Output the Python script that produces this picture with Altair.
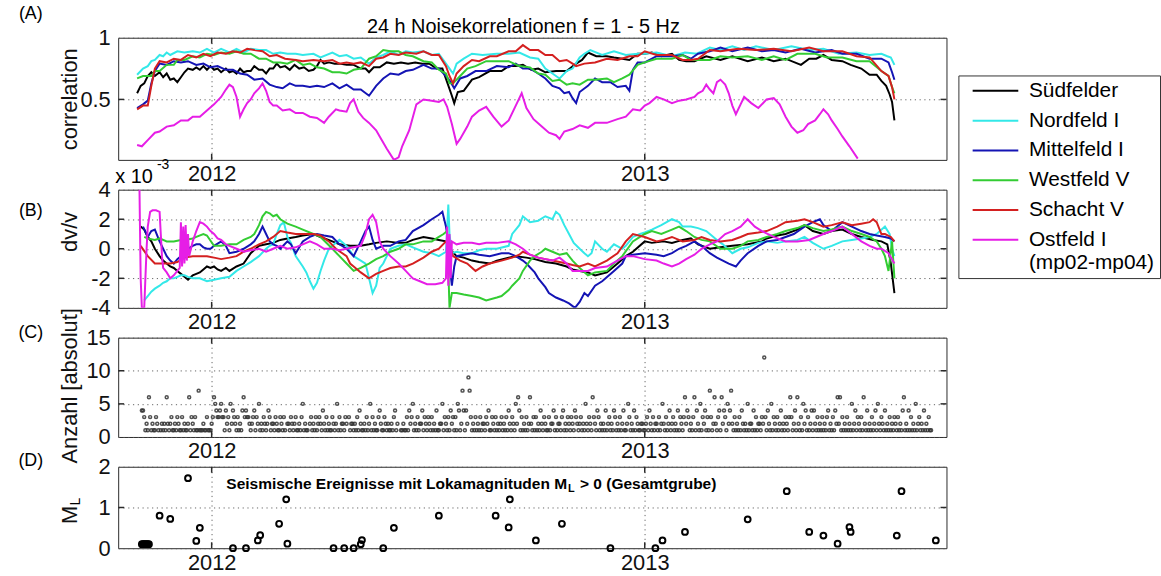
import datetime as dt

import altair as alt
import pandas as pd

FONT = "Liberation Sans"
FRAME = "#2b2b2b"

BASE = dt.date(2012, 1, 1)

SERIES = ["Südfelder", "Nordfeld I", "Mittelfeld I", "Westfeld V", "Schacht V", "Ostfeld I"]
COLORS = ["#000000", "#33e8e8", "#1414b4", "#33cc33", "#d42020", "#e61ee6"]

# ---------------- (A) 24 h noise correlation, (day since 2012-01-01, value)
SUED_A = [(-63,0.55),(-60,0.61),(-57,0.63),(-54,0.69),(-51,0.72),(-48,0.69),(-44,0.72),(-41,0.68),(-38,0.71),(-35,0.66),(-32,0.67),(-29,0.64),(-26,0.68),(-23,0.72),(-20,0.75),(-16,0.74),(-13,0.76),(-10,0.74),(-7,0.77),(-4,0.74),(-1,0.77),(2,0.74),(5,0.75),(8,0.72),(12,0.75),(15,0.72),(18,0.73),(21,0.71),(24,0.75),(27,0.72),(30,0.73),(33,0.73),(36,0.77),(40,0.74),(43,0.74),(46,0.71),(49,0.75),(52,0.75),(55,0.79),(58,0.76),(62,0.77),(66,0.74),(70,0.78),(74,0.75),(78,0.76),(82,0.73),(86,0.74),(89,0.77),(92,0.82),(95,0.79),(99,0.80),(104,0.79),(108,0.79),(114,0.78),(120,0.78),(126,0.75),(130,0.75),(133,0.72),(137,0.76),(142,0.76),(148,0.80),(154,0.79),(160,0.80),(166,0.79),(172,0.80),(178,0.79),(184,0.79),(190,0.75),(195,0.75),(199,0.64),(203,0.53),(205,0.47),(208,0.56),(213,0.57),(220,0.66),(226,0.68),(235,0.73),(245,0.73),(251,0.77),(257,0.77),(263,0.78),(270,0.74),(276,0.75),(282,0.72),(291,0.73),(300,0.73),(308,0.79),(313,0.82),(318,0.88),(325,0.85),(334,0.85),(340,0.84),(347,0.83),(353,0.82),(360,0.87),(366,0.87),(372,0.88),(380,0.85),(389,0.87),(395,0.82),(401,0.81),(408,0.81),(418,0.85),(430,0.82),(440,0.85),(453,0.81),(465,0.84),(475,0.81),(485,0.83),(498,0.78),(505,0.83),(511,0.83),(517,0.86),(524,0.82),(533,0.81),(540,0.78),(549,0.75),(556,0.70),(562,0.70),(566,0.65),(570,0.61),(573,0.54),(575,0.48),(577,0.33)]
NORD_A = [(-63,0.70),(-58,0.75),(-54,0.77),(-51,0.81),(-48,0.82),(-44,0.86),(-41,0.85),(-38,0.88),(-35,0.86),(-29,0.89),(-23,0.88),(-16,0.89),(-10,0.88),(-4,0.91),(2,0.88),(8,0.91),(15,0.88),(21,0.91),(27,0.88),(33,0.91),(40,0.90),(46,0.90),(52,0.87),(58,0.88),(64,0.87),(71,0.87),(77,0.86),(86,0.87),(92,0.84),(102,0.88),(108,0.85),(114,0.86),(120,0.83),(126,0.84),(133,0.79),(139,0.84),(145,0.86),(151,0.89),(158,0.86),(164,0.89),(170,0.88),(179,0.89),(186,0.86),(192,0.87),(198,0.79),(201,0.75),(204,0.71),(207,0.79),(213,0.83),(220,0.87),(229,0.86),(241,0.87),(251,0.87),(260,0.88),(269,0.84),(276,0.83),(282,0.75),(288,0.71),(294,0.67),(300,0.73),(305,0.75),(311,0.84),(315,0.87),(320,0.90),(330,0.86),(340,0.89),(350,0.86),(360,0.87),(366,0.87),(376,0.88),(389,0.85),(400,0.88),(410,0.87),(421,0.92),(430,0.90),(440,0.93),(450,0.90),(460,0.93),(475,0.90),(490,0.93),(505,0.90),(517,0.91),(530,0.87),(545,0.88),(556,0.86),(566,0.87),(571,0.85),(574,0.84),(577,0.78)]
MITTEL_A = [(-63,0.43),(-58,0.46),(-54,0.49),(-51,0.63),(-48,0.73),(-44,0.79),(-38,0.78),(-32,0.81),(-26,0.80),(-20,0.81),(-13,0.78),(-7,0.79),(-1,0.76),(5,0.77),(12,0.74),(18,0.74),(24,0.71),(30,0.70),(36,0.66),(43,0.67),(49,0.62),(55,0.60),(60,0.59),(66,0.63),(71,0.61),(77,0.61),(83,0.60),(89,0.61),(95,0.60),(102,0.63),(108,0.59),(114,0.62),(120,0.58),(126,0.58),(133,0.53),(139,0.61),(145,0.67),(151,0.71),(158,0.70),(164,0.73),(170,0.74),(179,0.78),(186,0.75),(192,0.75),(198,0.69),(202,0.64),(205,0.59),(210,0.67),(216,0.69),(223,0.73),(232,0.73),(241,0.77),(251,0.76),(257,0.79),(263,0.75),(269,0.75),(276,0.71),(282,0.67),(288,0.61),(294,0.59),(298,0.55),(302,0.56),(305,0.51),(308,0.47),(311,0.56),(318,0.61),(324,0.67),(330,0.64),(337,0.64),(343,0.60),(350,0.61),(353,0.57),(356,0.74),(360,0.80),(366,0.80),(376,0.85),(389,0.85),(398,0.86),(405,0.83),(411,0.87),(421,0.89),(430,0.92),(440,0.89),(453,0.92),(465,0.89),(475,0.90),(485,0.88),(498,0.91),(510,0.88),(524,0.90),(533,0.87),(545,0.87),(556,0.83),(566,0.83),(572,0.80),(575,0.72),(577,0.66)]
WEST_A = [(-63,0.67),(-58,0.69),(-51,0.69),(-48,0.73),(-44,0.73),(-38,0.78),(-32,0.78),(-29,0.82),(-23,0.82),(-16,0.85),(-10,0.84),(-4,0.87),(2,0.86),(8,0.88),(15,0.87),(21,0.89),(27,0.87),(33,0.87),(40,0.83),(46,0.83),(52,0.80),(58,0.80),(64,0.79),(71,0.82),(77,0.78),(83,0.79),(89,0.76),(95,0.75),(102,0.72),(108,0.72),(114,0.71),(120,0.74),(126,0.75),(133,0.83),(139,0.85),(145,0.90),(151,0.89),(158,0.89),(164,0.86),(170,0.85),(179,0.81),(186,0.80),(192,0.74),(198,0.71),(201,0.63),(204,0.63),(210,0.69),(216,0.75),(223,0.77),(232,0.81),(241,0.81),(251,0.81),(260,0.77),(269,0.76),(276,0.71),(282,0.70),(288,0.65),(294,0.66),(300,0.62),(305,0.63),(311,0.62),(318,0.66),(324,0.66),(334,0.67),(340,0.64),(347,0.67),(353,0.70),(360,0.78),(366,0.80),(376,0.83),(389,0.83),(398,0.86),(405,0.82),(411,0.82),(421,0.82),(430,0.85),(440,0.84),(453,0.85),(465,0.82),(475,0.85),(485,0.82),(495,0.87),(501,0.87),(510,0.87),(520,0.84),(533,0.84),(545,0.81),(556,0.81),(566,0.73),(572,0.69),(575,0.60),(577,0.55)]
SCHACHT_A = [(-63,0.42),(-58,0.45),(-54,0.45),(-51,0.61),(-48,0.75),(-44,0.81),(-38,0.80),(-32,0.83),(-26,0.82),(-20,0.86),(-13,0.84),(-7,0.87),(-1,0.85),(5,0.88),(12,0.87),(18,0.89),(24,0.88),(30,0.91),(36,0.90),(43,0.89),(49,0.85),(55,0.86),(62,0.83),(71,0.82),(77,0.81),(86,0.82),(95,0.81),(102,0.82),(108,0.79),(114,0.80),(120,0.79),(126,0.80),(133,0.77),(139,0.83),(145,0.84),(151,0.87),(158,0.86),(164,0.88),(173,0.87),(179,0.89),(186,0.86),(192,0.86),(198,0.77),(201,0.69),(204,0.63),(207,0.71),(213,0.77),(220,0.82),(226,0.81),(235,0.85),(241,0.85),(251,0.89),(257,0.89),(263,0.94),(269,0.90),(276,0.90),(282,0.86),(288,0.86),(294,0.81),(300,0.82),(305,0.79),(308,0.77),(315,0.79),(324,0.80),(334,0.83),(343,0.82),(353,0.85),(360,0.85),(366,0.89),(376,0.86),(389,0.86),(398,0.82),(405,0.82),(411,0.83),(421,0.90),(430,0.89),(445,0.91),(460,0.90),(475,0.91),(490,0.89),(505,0.92),(517,0.89),(533,0.89),(545,0.85),(556,0.84),(566,0.73),(572,0.69),(575,0.60),(577,0.50)]
OST_A = [(-63,0.13),(-59,0.12),(-54,0.17),(-48,0.23),(-44,0.24),(-38,0.28),(-32,0.29),(-26,0.33),(-20,0.33),(-16,0.36),(-10,0.36),(-4,0.41),(2,0.46),(8,0.52),(12,0.58),(15,0.62),(18,0.60),(21,0.52),(24,0.36),(27,0.42),(30,0.47),(33,0.50),(36,0.55),(40,0.59),(43,0.63),(46,0.57),(49,0.48),(52,0.45),(55,0.45),(60,0.41),(66,0.42),(71,0.39),(77,0.39),(83,0.36),(89,0.35),(95,0.31),(99,0.36),(105,0.42),(108,0.41),(114,0.40),(117,0.47),(120,0.50),(124,0.40),(128,0.35),(133,0.31),(139,0.25),(142,0.20),(148,0.10),(154,0.01),(158,0.03),(161,0.12),(167,0.25),(173,0.46),(179,0.50),(186,0.49),(192,0.48),(196,0.50),(199,0.44),(203,0.30),(207,0.14),(210,0.18),(216,0.28),(220,0.36),(226,0.41),(232,0.44),(238,0.36),(245,0.28),(251,0.33),(257,0.45),(262,0.55),(266,0.43),(272,0.34),(279,0.28),(285,0.23),(291,0.21),(294,0.18),(298,0.24),(305,0.26),(311,0.29),(318,0.27),(324,0.31),(334,0.31),(343,0.34),(350,0.36),(356,0.42),(362,0.41),(366,0.45),(370,0.47),(376,0.52),(382,0.50),(389,0.47),(395,0.49),(401,0.50),(408,0.52),(411,0.55),(415,0.57),(418,0.62),(421,0.58),(424,0.55),(427,0.64),(430,0.66),(434,0.62),(437,0.55),(440,0.45),(443,0.38),(447,0.46),(450,0.52),(456,0.47),(462,0.43),(469,0.50),(475,0.51),(480,0.46),(485,0.36),(490,0.28),(495,0.23),(500,0.25),(504,0.30),(510,0.33),(514,0.38),(517,0.42),(521,0.38),(524,0.33),(529,0.26),(533,0.20),(539,0.12),(546,0.02)]

# ---------------- (B) dv/v in units of 1e-3
SUED_B = [(-60,1.5),(-57,1.3),(-54,0.8),(-51,0.5),(-48,0.0),(-44,-0.5),(-41,-0.8),(-38,-1.0),(-35,-1.2),(-32,-1.3),(-29,-1.5),(-26,-1.7),(-23,-1.9),(-20,-2.1),(-16,-1.8),(-13,-1.7),(-10,-1.6),(-7,-1.4),(-4,-1.2),(-1,-1.3),(2,-1.2),(5,-1.4),(8,-1.5),(12,-1.3),(15,-1.5),(21,-1.2),(27,-1.0),(33,-0.3),(40,0.2),(46,0.3),(52,0.4),(58,0.6),(64,0.7),(71,0.8),(77,0.9),(86,1.0),(92,0.8),(102,0.5),(108,0.3),(117,0.2),(126,0.2),(133,0.3),(139,0.4),(148,0.5),(158,0.4),(164,0.4),(170,0.6),(179,0.8),(186,0.7),(192,0.6),(198,0.5),(201,0.0),(207,-0.5),(213,-0.6),(220,-0.8),(226,-0.9),(235,-1.0),(241,-0.8),(251,-0.6),(257,-0.5),(266,-0.6),(273,-0.7),(282,-0.9),(291,-1.0),(300,-1.2),(305,-1.4),(311,-1.5),(318,-1.6),(324,-1.8),(334,-1.6),(343,-1.0),(350,-0.5),(356,-0.2),(366,0.5),(372,0.4),(382,0.5),(389,0.4),(398,0.6),(405,0.7),(411,0.3),(421,0.0),(430,0.1),(440,0.2),(453,0.3),(465,0.5),(469,0.7),(478,0.9),(485,1.0),(495,1.3),(501,1.6),(508,1.2),(517,1.0),(524,1.2),(533,1.3),(541,1.0),(549,0.8),(559,0.6),(566,0.5),(571,0.3),(574,-1.0),(577,-3.0)]
NORD_B = [(-57,-3.5),(-54,-3.2),(-51,-2.9),(-48,-2.7),(-44,-2.5),(-41,-2.3),(-38,-2.2),(-35,-2.0),(-32,-2.0),(-29,-1.9),(-26,-1.8),(-23,-1.8),(-20,-1.9),(-16,-2.0),(-10,-2.0),(-4,-2.2),(2,-2.1),(8,-2.0),(15,-1.9),(21,-1.5),(27,-1.2),(33,-0.9),(40,-0.5),(46,0.0),(49,0.2),(52,0.3),(55,1.0),(58,1.6),(61,1.8),(64,0.8),(67,0.4),(71,-0.5),(77,-1.2),(80,-1.6),(83,-2.2),(86,-2.7),(89,-2.3),(92,-1.5),(95,-0.8),(99,0.0),(105,0.4),(108,0.6),(114,0.2),(120,-0.5),(126,-0.8),(130,-1.0),(133,-2.0),(136,-3.0),(139,-2.5),(142,-1.3),(145,-1.0),(151,0.0),(158,0.2),(164,0.3),(170,0.1),(179,-0.2),(186,-0.3),(192,-0.5),(198,-0.2),(200,3.0),(201,1.0),(203,-0.3),(207,-0.2),(213,-0.3),(220,-0.3),(226,-0.1),(232,0.0),(241,0.0),(251,0.2),(254,1.0),(260,1.6),(263,2.2),(269,1.8),(276,1.9),(282,2.2),(288,2.0),(291,2.5),(294,2.3),(298,1.6),(302,1.0),(306,0.4),(311,0.0),(315,-0.3),(318,-0.5),(321,-0.3),(324,0.5),(330,0.0),(334,-0.2),(340,0.3),(347,0.0),(350,0.2),(356,0.8),(362,1.0),(366,1.1),(372,1.3),(380,1.6),(389,2.0),(395,1.8),(398,1.5),(405,1.5),(411,1.4),(418,1.2),(421,1.0),(427,0.6),(432,0.3),(440,-0.3),(447,0.0),(453,0.1),(462,0.4),(469,0.5),(478,0.4),(485,0.5),(495,0.6),(501,0.8),(508,0.4),(517,0.0),(524,0.2),(533,0.5),(541,0.6),(549,0.7),(556,0.8),(562,1.0),(569,1.5),(573,1.0),(575,0.0),(577,-0.5)]
MITTEL_B = [(-58,1.5),(-54,0.8),(-51,1.2),(-48,1.3),(-44,0.5),(-41,0.0),(-38,-0.5),(-35,-0.8),(-32,-1.0),(-29,-0.7),(-26,-0.5),(-23,-0.2),(-20,0.0),(-16,0.2),(-13,0.3),(-10,0.3),(-7,0.1),(-4,0.0),(-1,0.0),(2,0.2),(8,0.5),(12,0.2),(15,-0.3),(21,-0.2),(27,0.0),(33,0.3),(36,0.5),(40,1.0),(43,1.5),(46,1.0),(49,0.5),(52,0.3),(55,0.2),(58,0.0),(64,0.5),(67,0.3),(71,-0.3),(77,0.5),(83,0.8),(89,1.0),(95,0.9),(102,0.8),(108,0.3),(114,0.0),(120,-0.5),(126,0.5),(130,1.2),(133,1.5),(136,0.6),(139,0.0),(145,0.2),(151,0.2),(158,0.5),(164,0.6),(170,1.2),(179,1.6),(186,2.0),(192,2.3),(195,2.5),(198,1.5),(199,1.0),(201,-1.0),(203,-2.5),(205,-1.2),(207,-0.5),(213,-0.4),(220,-0.3),(226,-0.4),(235,-0.5),(245,-0.3),(251,-0.3),(257,-0.5),(263,-0.8),(266,-1.0),(273,-1.6),(276,-2.0),(282,-2.6),(285,-3.0),(291,-3.3),(297,-3.5),(302,-3.7),(307,-4.0),(311,-3.6),(315,-3.0),(318,-3.2),(324,-2.5),(330,-2.2),(340,-1.5),(347,-1.0),(350,-0.5),(356,-0.4),(366,-0.3),(376,-0.4),(382,-0.5),(389,-0.3),(395,0.0),(401,0.2),(408,0.5),(414,0.2),(421,-0.3),(427,-0.6),(437,-1.0),(443,-1.2),(447,-0.8),(453,-0.3),(462,0.2),(469,0.5),(478,0.6),(485,0.8),(492,1.0),(501,1.5),(508,1.8),(514,2.0),(517,1.6),(524,1.2),(533,1.8),(541,1.5),(549,1.2),(556,1.0),(562,0.9),(569,0.8),(574,0.7),(577,0.5)]
WEST_B = [(-57,0.8),(-54,0.7),(-48,0.6),(-44,0.7),(-38,0.5),(-32,0.5),(-26,0.6),(-23,0.6),(-16,0.7),(-13,0.8),(-7,1.0),(-4,0.9),(2,0.2),(8,0.2),(15,0.3),(21,0.3),(27,0.6),(33,0.8),(36,1.0),(40,1.6),(43,2.2),(46,2.5),(49,2.4),(52,2.2),(55,2.3),(58,2.0),(64,1.7),(71,1.5),(77,1.3),(86,1.0),(92,0.8),(102,0.0),(108,-0.5),(114,-1.0),(120,-1.5),(126,-1.3),(133,-1.0),(139,-0.7),(145,-0.5),(151,-0.2),(158,0.0),(164,0.3),(170,0.3),(179,0.5),(186,0.5),(192,0.8),(196,1.0),(199,1.2),(201,-4.0),(203,-3.0),(207,-3.0),(213,-3.1),(220,-3.2),(226,-3.3),(232,-3.5),(241,-3.3),(245,-3.2),(251,-2.8),(254,-2.5),(260,-2.0),(263,-1.5),(269,-0.8),(273,-0.5),(279,-0.2),(282,0.0),(288,-0.2),(294,-0.4),(300,-0.3),(305,-0.8),(311,-1.3),(318,-1.8),(324,-1.6),(334,-1.5),(340,-1.0),(347,-0.5),(356,0.5),(362,0.8),(366,1.0),(372,1.2),(380,1.0),(389,1.3),(395,1.5),(401,1.2),(408,0.8),(414,0.6),(421,0.5),(430,0.0),(440,0.0),(447,0.2),(453,0.5),(462,0.6),(469,0.8),(478,1.0),(485,1.2),(495,1.4),(501,1.6),(508,1.4),(517,1.2),(524,1.3),(533,1.5),(541,1.2),(549,1.0),(556,0.8),(562,0.5),(566,0.0),(569,-0.5),(572,-1.5),(575,0.5),(577,-2.0)]
SCHACHT_B = [(-60,0.2),(-54,-0.5),(-48,-1.0),(-41,-1.0),(-35,-1.0),(-29,-0.9),(-23,-0.6),(-16,-0.5),(-10,-0.5),(-4,-0.5),(2,-0.6),(8,-0.7),(15,-0.6),(21,-0.5),(27,-0.2),(33,0.0),(40,0.3),(46,0.5),(52,0.8),(58,1.2),(64,1.1),(71,1.0),(77,1.0),(86,1.0),(92,0.9),(99,0.5),(105,0.0),(114,-0.5),(117,-1.0),(120,-1.2),(126,-1.6),(133,-2.0),(139,-1.7),(145,-1.5),(151,-1.3),(158,-1.2),(164,-1.2),(170,-1.0),(179,-0.6),(186,-0.2),(192,0.0),(198,0.5),(201,0.2),(204,-0.5),(210,-0.8),(216,-1.0),(223,-1.5),(229,-1.2),(235,-1.0),(245,-0.8),(254,-0.6),(260,-0.4),(263,-0.2),(269,-0.4),(276,-0.6),(282,-0.7),(288,-0.8),(294,-0.9),(300,-1.0),(305,-1.1),(311,-1.2),(318,-1.0),(324,-1.2),(334,-0.8),(343,-0.3),(350,0.5),(356,1.0),(366,0.8),(376,0.5),(382,0.6),(389,0.8),(398,0.5),(408,0.6),(414,0.8),(421,0.6),(430,0.5),(440,0.6),(447,0.8),(453,1.0),(462,1.1),(469,1.2),(478,1.5),(485,1.8),(495,1.9),(501,2.0),(508,1.8),(517,1.5),(524,1.6),(533,1.8),(541,1.6),(549,1.7),(556,1.8),(559,2.0),(562,1.8),(566,1.0),(569,1.0),(574,0.8),(577,0.5)]
OST_B = [(-61,4.0),(-60,-2.0),(-59,-4.0),(-57,-4.0),(-56,-2.0),(-55,0.0),(-54,1.5),(-52,2.5),(-50,2.6),(-47,2.6),(-44,2.5),(-43,1.0),(-42,-0.5),(-41,-1.3),(-38,-1.6),(-35,-2.0),(-32,-1.8),(-29,-1.5),(-27,-1.3),(-26,1.8),(-25,-1.2),(-24,1.5),(-23,-1.0),(-22,1.6),(-21,-0.8),(-20,1.0),(-19,-0.5),(-16,0.5),(-13,1.2),(-10,1.8),(-7,1.7),(-4,1.5),(-1,1.2),(2,1.0),(5,0.7),(8,0.6),(12,0.3),(15,0.2),(21,0.0),(27,-0.2),(33,-0.1),(40,0.0),(46,-0.2),(52,0.0),(58,0.2),(64,0.0),(71,0.1),(77,0.3),(83,0.5),(89,0.3),(95,0.0),(102,0.0),(108,-0.1),(114,0.0),(120,0.1),(126,0.2),(130,1.0),(133,2.0),(136,2.3),(139,1.8),(142,0.5),(145,0.0),(151,-0.5),(158,-1.0),(164,-1.5),(170,-2.0),(176,-2.2),(182,-2.4),(189,-2.4),(195,-2.3),(198,-2.0),(199,1.5),(200,-2.5),(201,1.0),(202,-2.0),(203,0.5),(207,0.3),(213,0.4),(220,0.4),(226,0.3),(232,0.4),(241,0.4),(251,0.5),(257,0.3),(263,0.0),(269,-0.4),(276,-0.6),(282,-0.7),(288,-0.8),(294,-0.6),(300,-1.0),(305,-1.5),(311,-1.5),(318,-1.5),(324,-1.3),(334,-1.2),(343,-0.8),(350,-0.5),(356,-0.5),(366,-0.7),(376,-0.8),(382,-1.0),(389,-1.2),(395,-1.0),(401,-0.7),(408,-0.4),(414,0.0),(421,0.3),(427,0.5),(434,1.0),(440,1.2),(447,1.5),(453,2.0),(459,1.5),(465,1.2),(475,0.8),(485,0.5),(495,0.5),(505,0.6),(517,1.0),(524,1.2),(533,1.5),(541,1.0),(549,0.5),(556,0.2),(562,0.0),(566,0.0),(572,-0.3),(577,-1.0)]

SERIES_A = [SUED_A, NORD_A, MITTEL_A, WEST_A, SCHACHT_A, OST_A]
SERIES_B = [SUED_B, NORD_B, MITTEL_B, WEST_B, SCHACHT_B, OST_B]

# ---------------- (C) events per day, one character per day of the month (hex digit, 0 = none)
DAILY_COUNTS = [
    ("2011-11-01", "0044312163" "1211321012" "1216212311"),
    ("2011-12-01", "2132113121" "1261321311" "7111211311" "1"),
    ("2012-01-01", "2365433453" "3142315243" "2131214634" "3"),
    ("2012-02-01", "3212341325" "1213212431" "221321132"),
    ("2012-03-01", "1310221321" "2311213512" "1102312131" "2"),
    ("2012-04-01", "3214213121" "1321251312" "2132031221"),
    ("2012-05-01", "2131421121" "3125131211" "3421132121" "1"),
    ("2012-06-01", "2134120011" "2113142351" "2131224132"),
    ("2012-07-01", "1321312141" "1225132131" "4231315412" "7"),
    ("2012-08-01", "4142973121" "3121312213" "2411321312" "1"),
    ("2012-09-01", "2312131421" "3215264131" "2131262131"),
    ("2012-10-01", "3121421321" "1312241312" "2134121321" "3"),
    ("2012-11-01", "2143212312" "1521321632" "1431212141"),
    ("2012-12-01", "2312143121" "3124112531" "2141321122" "1"),
    ("2013-01-01", "1231421312" "2131252131" "2412312141" "3"),
    ("2013-02-01", "2136243121" "3614215132" "41317312"),
    ("2013-03-01", "6213416243" "1524721312" "1314212151" "2"),
    ("2013-04-01", "2141312213" "2c31421513" "2131241213"),
    ("2013-05-01", "2136312416" "2131524131" "2414213121" "3"),
    ("2013-06-01", "1213412131" "4262613121" "3121512413"),
    ("2013-07-01", "2131621412" "1312415213" "2141213121" "3"),
    ("2013-08-01", "2131214612" "1413121512" "3121412131" "1"),
]

# ---------------- (D) local magnitudes M_L > 0, (day since 2012-01-01, M_L)
MAG_EVENTS = [(-59,0.1),(-58,0.1),(-57,0.1),(-56,0.1),(-55,0.1),(-54,0.1),(-53,0.1),(-44,0.8),(-35,0.72),(-20,1.72),(-13,0.18),(-10,0.5),(18,0.0),(29,0.0),(39,0.19),(41,0.32),(57,0.6),(63,1.2),(64,0.11),(103,0.0),(112,0.0),(120,0.0),(126,0.1),(127,0.2),(145,0.0),(154,0.5),(192,0.8),(240,0.8),(251,0.51),(252,1.2),(274,0.19),(296,0.6),(337,0.0),(375,0.0),(381,0.19),(400,0.4),(453,0.71),(486,1.4),(505,0.4),(517,0.31),(529,0.11),(539,0.52),(540,0.4),(579,0.31),(583,1.4),(612,0.19)]

YEAR_TICKS = ["2012-01-01", "2013-01-01"]


def iso(day):
    return (BASE + dt.timedelta(days=day)).isoformat()


def series_frame(groups):
    rows = []
    for name, pts in zip(SERIES, groups):
        for d, v in pts:
            rows.append({"date": iso(d), "v": v, "series": name})
    return pd.DataFrame(rows)


df_a = series_frame(SERIES_A)
df_b = series_frame(SERIES_B)

count_rows = []
for start, codes in DAILY_COUNTS:
    first = dt.date.fromisoformat(start)
    for i, ch in enumerate(codes):
        n = int(ch, 16)
        if n > 0:
            count_rows.append({"date": (first + dt.timedelta(days=i)).isoformat(), "v": n})
df_c = pd.DataFrame(count_rows)

df_d = pd.DataFrame({"date": [iso(d) for d, _ in MAG_EVENTS], "v": [m for _, m in MAG_EVENTS]})

W = 834
H_A, H_B, H_C, H_D = 123, 119, 100, 82

x_scale = alt.Scale(
    type="utc",
    domain=[alt.DateTime(year=2011, month=10, date=14, utc=True),
            alt.DateTime(year=2013, month=9, date=13, utc=True)],
)
x_axis = alt.Axis(
    values=[alt.DateTime(year=2012, month=1, date=1, utc=True),
            alt.DateTime(year=2013, month=1, date=1, utc=True)],
    format="%Y", title=None, grid=True, labelPadding=4, labelFlush=False,
)
X = alt.X("date:T", scale=x_scale, axis=x_axis)

color = alt.Color(
    "series:N",
    scale=alt.Scale(domain=SERIES, range=COLORS),
    legend=alt.Legend(
        orient="none", legendX=846, legendY=38, title=None,
        fillColor="white", strokeColor="#333", padding=5, cornerRadius=0,
        labelFont=FONT, labelFontSize=21, labelColor="black", labelLimit=0,
        labelOffset=45, rowPadding=8, symbolType="M-0.2,0H7.8", symbolSize=132,
        symbolStrokeWidth=2,
        labelExpr="datum.label == 'Ostfeld I' ? ['Ostfeld I', '(mp02-mp04)'] : datum.label",
    ),
)


def y_enc(domain, values, title, title_y):
    return alt.Y(
        "v:Q",
        scale=alt.Scale(domain=domain),
        axis=alt.Axis(values=values, title=title, grid=True, labelPadding=8,
                      labelExpr="'' + datum.value", titleX=-42, titleY=title_y,
                      titleAngle=270, titleAlign="center", titleBaseline="alphabetic"),
    )


def inner_ticks(Y, yvals, height):
    """Short inward ticks on all four sides of a boxed panel."""
    ydf = pd.DataFrame({"v": yvals})
    xdf = pd.DataFrame({"date": YEAR_TICKS})
    rule = dict(color=FRAME, strokeWidth=1.5)
    return [
        alt.Chart(ydf).mark_rule(**rule).encode(y=Y, x=alt.value(0), x2=alt.value(6)),
        alt.Chart(ydf).mark_rule(**rule).encode(y=Y, x=alt.value(W - 6), x2=alt.value(W)),
        alt.Chart(xdf).mark_rule(**rule).encode(x=X, y=alt.value(0), y2=alt.value(6)),
        alt.Chart(xdf).mark_rule(**rule).encode(x=X, y=alt.value(height - 6), y2=alt.value(height)),
    ]


def note(text, x, y, size, **kw):
    return alt.Chart(pd.DataFrame({"t": [text]})).mark_text(
        fontSize=size, font=FONT, color="black", **kw
    ).encode(x=alt.value(x), y=alt.value(y), text="t:N")


# (A)
YA = y_enc([0.01, 1], [0.5, 1], "correlation", H_A / 2)
panel_a = alt.layer(
    alt.Chart(df_a).mark_line(strokeWidth=2, clip=True).encode(x=X, y=YA, color=color),
    *inner_ticks(YA, [0.5], H_A),
    note("(A)", -88, -24, 18),
    note("24 h Noisekorrelationen f = 1 - 5 Hz", 408, -5, 20, baseline="alphabetic"),
).properties(width=W, height=H_A)

# (B)
YB = y_enc([-4, 4], [-4, -2, 0, 2, 4], "dv/v", 42)
panel_b = alt.layer(
    alt.Chart(df_b).mark_line(strokeWidth=2, clip=True).encode(x=X, y=YB, color=color),
    *inner_ticks(YB, [-2, 0, 2], H_B),
    note("(B)", -88, 22, 18),
    note("x 10", -3, -13, 20, align="left"),
    note("-3", 39, -25, 14, align="left"),
).properties(width=W, height=H_B)

# (C)
YC = y_enc([0, 15], [0, 5, 10, 15], "Anzahl [absolut]", 48)
panel_c = alt.layer(
    alt.Chart(df_c).mark_point(shape="circle", filled=False, size=9, strokeWidth=1.5,
                               color="#333333", opacity=0.85).encode(x=X, y=YC),
    *inner_ticks(YC, [5, 10], H_C),
    note("(C)", -88, -5, 18),
).properties(width=W, height=H_C)

# (D)
YD = y_enc([0, 2], [0, 1, 2], "M", 48)
panel_d = alt.layer(
    alt.Chart(df_d).mark_point(shape="circle", filled=False, size=34, strokeWidth=2,
                               color="black", opacity=1).encode(x=X, y=YD),
    *inner_ticks(YD, [1], H_D),
    note("(D)", -88, -6, 18),
    note("L", -38, 39, 14, angle=270, align="left", baseline="alphabetic"),
    note("Seismische Ereignisse mit Lokamagnituden M", 452, 17, 15.6,
         fontWeight="bold", align="right"),
    note("L", 453, 22, 11, fontWeight="bold", align="left"),
    note("> 0 (Gesamtgrube)", 465, 17, 15.6, fontWeight="bold", align="left"),
).properties(width=W, height=H_D)

chart = (
    alt.vconcat(panel_a, panel_b, panel_c, panel_d, spacing=30, bounds="flush")
    .resolve_scale(y="independent", color="shared")
    .properties(padding={"left": 18, "top": 2, "right": 0, "bottom": 0}, background="white")
    .configure_view(stroke=FRAME, strokeWidth=1)
    .configure_text(baseline="middle", align="center")
    .configure_axis(
        labelFont=FONT, labelFontSize=22, labelColor="#111111",
        titleFont=FONT, titleFontSize=22, titleFontWeight="normal", titleColor="#111111",
        domain=False, ticks=False,
        gridColor="#555555", gridDash=[1.2, 3.6], gridWidth=1, gridOpacity=0.9,
    )
)

chart.save("out.html", embed_options={"renderer": "svg", "actions": False})
